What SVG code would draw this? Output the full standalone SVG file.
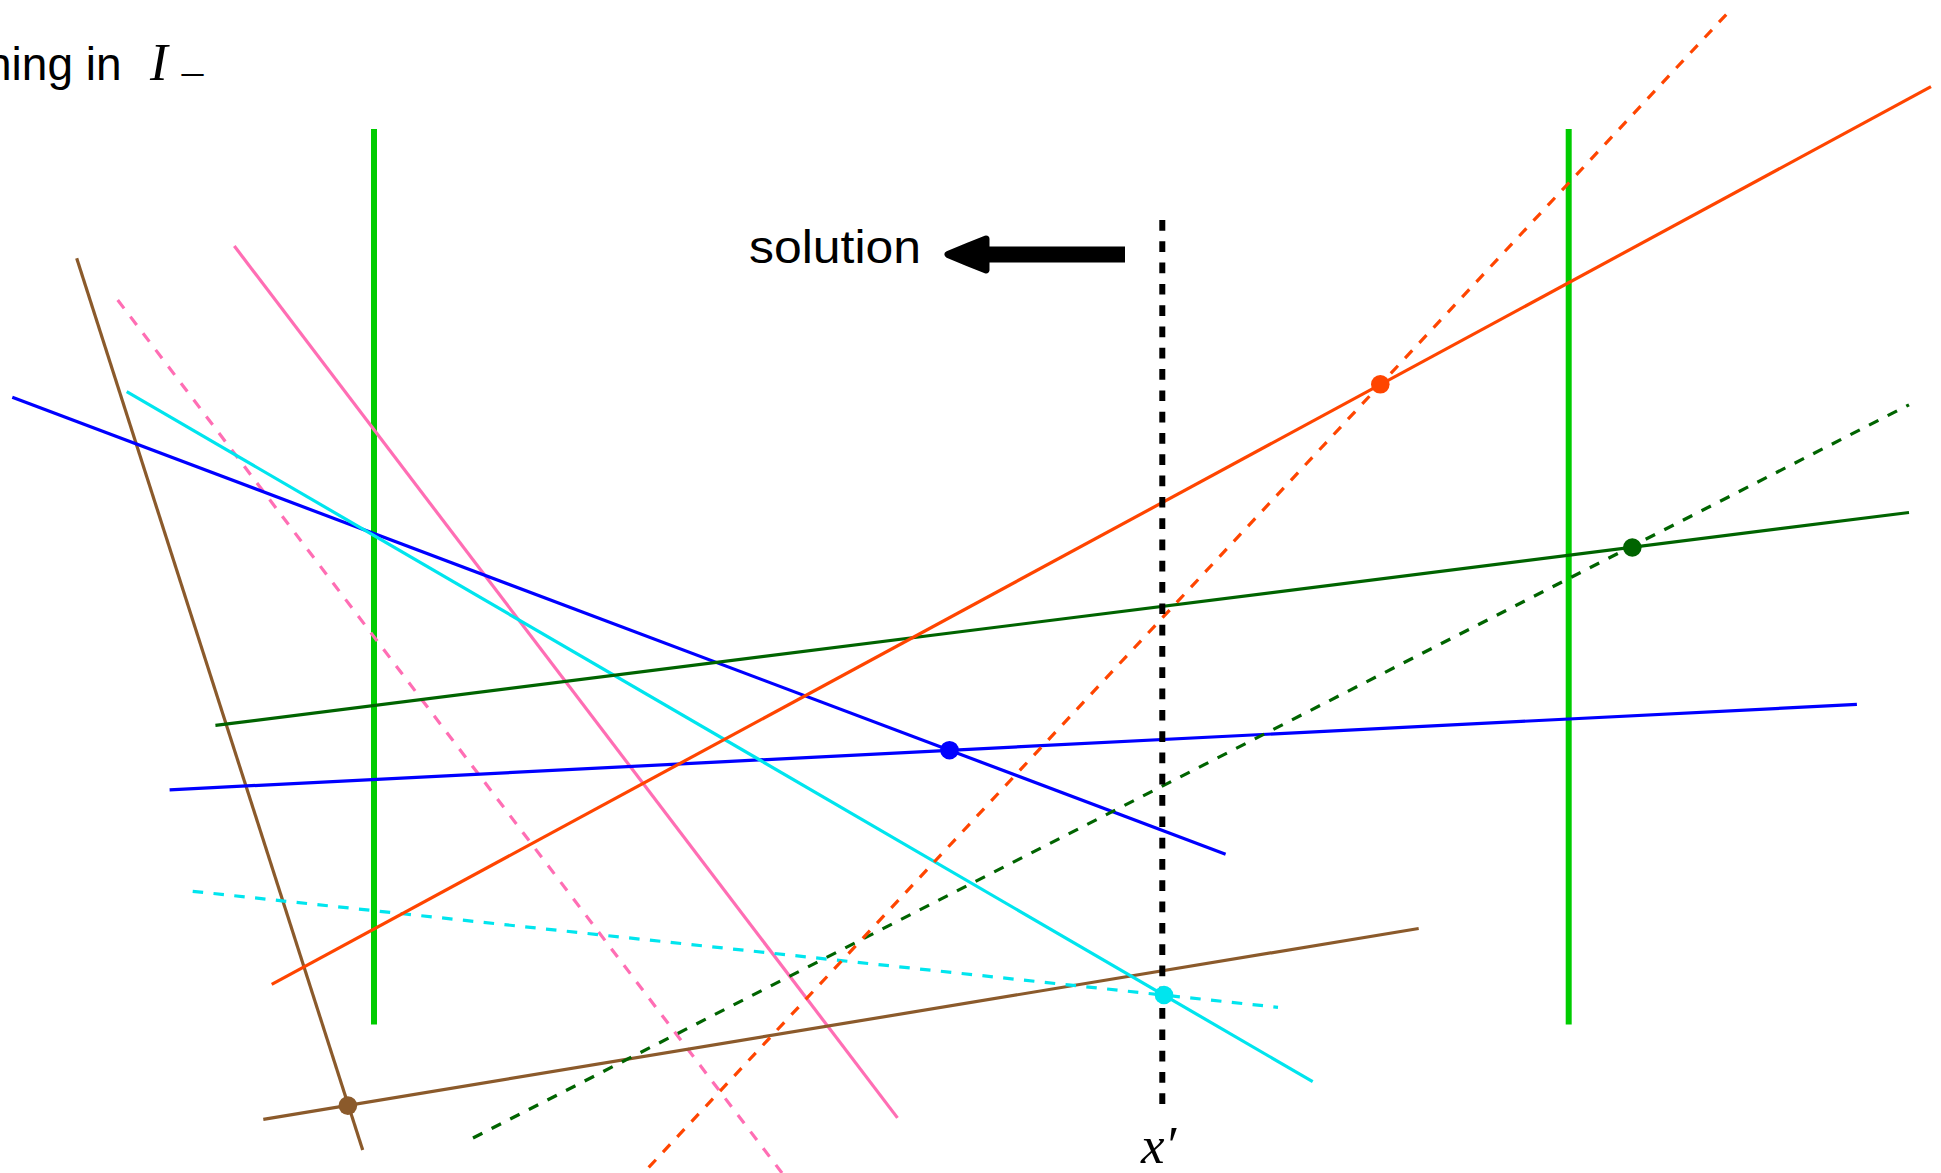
<svg xmlns="http://www.w3.org/2000/svg" width="1941" height="1173" viewBox="0 0 1941 1173">
<style>
.ln{fill:none;stroke-width:3.2;stroke-linecap:butt}
.dash{stroke-dasharray:10.5 10.4}
.bound{fill:none;stroke:#00cc00;stroke-width:6}
.pink{stroke:#ff6eb4}
.brown{stroke:#8b5a2b}
.blue{stroke:#0000ff}
.cyan{stroke:#00e5ee}
.dgreen{stroke:#006400}
.orange{stroke:#ff4500}
.sans{font-family:"Liberation Sans",Arial,sans-serif;fill:#000}
.math{font-family:"Liberation Serif","DejaVu Serif",serif;font-style:italic;fill:#000}
</style>
<rect width="1941" height="1173" fill="#fff"/>
<g id="title">
<text class="sans" x="-14" y="80" font-size="46">hing in</text>
<text class="math" x="150" y="80" font-size="53">I</text>
<text x="179" y="88" font-family="Liberation Serif,serif" font-size="40" textLength="27" lengthAdjust="spacingAndGlyphs">−</text>
</g>
<g id="boundaries">
<line class="bound" x1="374" y1="129" x2="374" y2="1024.5"/>
<line class="bound" x1="1568.7" y1="129" x2="1568.7" y2="1024.5"/>
</g>
<g id="connectors">
<line class="ln pink" x1="234.3" y1="246" x2="897.5" y2="1117.9"/>
<line class="ln pink dash" x1="117.7" y1="300" x2="782" y2="1173"/>
<line class="ln brown" x1="76.7" y1="258.3" x2="362.7" y2="1150"/>
<line class="ln brown" x1="263.3" y1="1119.3" x2="1418.7" y2="928.5"/>
<line class="ln blue" x1="12.3" y1="397.3" x2="1225.6" y2="854.2"/>
<line class="ln blue" x1="169.6" y1="789.8" x2="1856.9" y2="704.4"/>
<line class="ln cyan" x1="126.7" y1="391.7" x2="1312.7" y2="1081.7"/>
<line class="ln cyan dash" x1="192.7" y1="891.3" x2="1278" y2="1007.3"/>
<line class="ln dgreen" x1="215.4" y1="725.4" x2="1909" y2="512.5"/>
<line class="ln dgreen dash" x1="473" y1="1138" x2="1909" y2="404.8"/>
<line class="ln orange" x1="271.7" y1="984.3" x2="1931" y2="86.7"/>
<line class="ln orange dash" x1="648.7" y1="1167.4" x2="1728.3" y2="12.3"/>
</g>
<g id="xprime">
<line x1="1162.3" y1="220" x2="1162.3" y2="1105" stroke="#000" stroke-width="6" stroke-dasharray="10.7 10.6"/>
<text class="math" x="1141" y="1163" font-size="53">x′</text>
</g>
<g id="solution">
<text class="sans" x="749" y="263" font-size="46" textLength="172" lengthAdjust="spacingAndGlyphs">solution</text>
<line x1="978" y1="254.5" x2="1125" y2="254.5" stroke="#000" stroke-width="16"/>
<path d="M986,239 Q968,246 948,254.5 Q968,263 986,270 Z" fill="#000" stroke="#000" stroke-width="7" stroke-linejoin="round"/>
</g>
<g id="points">
<circle id="p-orange" cx="1380.3" cy="384.3" r="9.3" fill="#ff4500"/>
<circle id="p-dgreen" cx="1632.3" cy="547.5" r="9.3" fill="#006400"/>
<circle id="p-blue" cx="949.5" cy="750.2" r="9.3" fill="#0000ff"/>
<circle id="p-cyan" cx="1164" cy="995" r="9.3" fill="#00e5ee"/>
<circle id="p-brown" cx="347.9" cy="1105.6" r="9.3" fill="#8b5a2b"/>
</g>
</svg>
